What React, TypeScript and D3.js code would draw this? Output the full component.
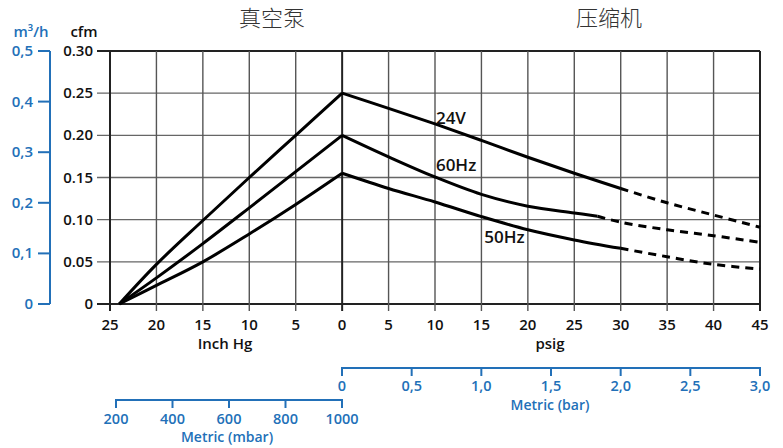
import React from "react";
import * as d3 from "d3";

// ---------- data ----------
const vacuumInHg = [24, 20, 15, 10, 5, 0];
const vac24V = [0, 0.047, 0.099, 0.15, 0.2, 0.25];
const vac60Hz = [0, 0.031, 0.0716, 0.114, 0.157, 0.2];
const vac50Hz = [0, 0.022, 0.05, 0.083, 0.118, 0.155];

const psig24VSolid = [0, 5, 10, 15, 20, 25, 30];
const cmp24VSolid = [0.25, 0.232, 0.2135, 0.194, 0.174, 0.155, 0.137];
const psig24VDash = [30, 35, 40, 45];
const cmp24VDash = [0.137, 0.12, 0.1055, 0.091];

const psig60HzSolid = [0, 5, 10, 15, 20, 25, 27.5];
const cmp60HzSolid = [0.2, 0.1745, 0.1506, 0.13, 0.116, 0.108, 0.104];
const psig60HzDash = [27.5, 30, 35, 40, 45];
const cmp60HzDash = [0.104, 0.097, 0.088, 0.081, 0.073];

const psig50HzSolid = [0, 5, 10, 15, 20, 25, 30];
const cmp50HzSolid = [0.155, 0.137, 0.121, 0.1036, 0.088, 0.076, 0.066];
const psig50HzDash = [30, 35, 40, 45];
const cmp50HzDash = [0.066, 0.056, 0.047, 0.0415];

const inHgTicks = [25, 20, 15, 10, 5, 0];
const psigTicks = [0, 5, 10, 15, 20, 25, 30, 35, 40, 45];
const cfmTicks = [0, 0.05, 0.1, 0.15, 0.2, 0.25, 0.3];
const cfmTickLabels = ["0", "0.05", "0.10", "0.15", "0.20", "0.25", "0.30"];
const m3hTicks = [0, 0.1, 0.2, 0.3, 0.4, 0.5];
const m3hTickLabels = ["0", "0,1", "0,2", "0,3", "0,4", "0,5"];
const barTicks = [0, 0.5, 1, 1.5, 2, 2.5, 3];
const barTickLabels = ["0", "0,5", "1,0", "1,5", "2,0", "2,5", "3,0"];
const mbarTicks = [200, 400, 600, 800, 1000];

const curveLabels = [
  { text: "24V", psig: 10.1, cfm: 0.214 },
  { text: "60Hz", psig: 10.1, cfm: 0.158 },
  { text: "50Hz", psig: 15.3, cfm: 0.072 },
];

// ---------- layout ----------
const W = 783;
const H = 448;
const BLUE = "#2270b8";
const FONT = "'Open Sans', 'Noto Sans', sans-serif";

const x = d3.scaleLinear().domain([-25, 45]).range([110, 760]);
const y = d3.scaleLinear().domain([0, 0.3]).range([304, 51]);
const yM3 = d3.scaleLinear().domain([0, 0.5]).range([304, 51]);
const xBar = d3.scaleLinear().domain([0, 3]).range([342, 760]);
const xMbar = d3.scaleLinear().domain([200, 1000]).range([116, 342]);

const line = d3
  .line<[number, number]>()
  .x((d) => x(d[0]))
  .y((d) => y(d[1]))
  .curve(d3.curveCatmullRom.alpha(0.5));

function vacPts(vals: number[]): [number, number][] {
  return vacuumInHg.map((v, i) => [-v, vals[i]] as [number, number]);
}
function cmpPts(ps: number[], vals: number[]): [number, number][] {
  return ps.map((p, i) => [p, vals[i]] as [number, number]);
}

const solidSeries = [
  vacPts(vac24V),
  vacPts(vac60Hz),
  vacPts(vac50Hz),
  cmpPts(psig24VSolid, cmp24VSolid),
  cmpPts(psig60HzSolid, cmp60HzSolid),
  cmpPts(psig50HzSolid, cmp50HzSolid),
];
const dashSeries = [
  cmpPts(psig24VDash, cmp24VDash),
  cmpPts(psig60HzDash, cmp60HzDash),
  cmpPts(psig50HzDash, cmp50HzDash),
];

export default function App() {
  const vLines = [...inHgTicks.map((v) => -v), ...psigTicks.filter((p) => p > 0)];
  return (
    <svg
      width={W}
      height={H}
      viewBox={`0 0 ${W} ${H}`}
      style={{ position: "absolute", left: 0, top: 0, background: "#fff" }}
      fontFamily={FONT}
      fontWeight={600}
    >
      {/* titles */}
      <text x={272} y={26} textAnchor="middle" fontSize={22} fill="#333" fontFamily="'Noto Sans CJK SC'" fontWeight={300}>
        真空泵
      </text>
      <text x={609} y={26} textAnchor="middle" fontSize={22} fill="#333" fontFamily="'Noto Sans CJK SC'" fontWeight={300}>
        压缩机
      </text>

      {/* horizontal grid + cfm ticks */}
      {cfmTicks.map((t, i) => (
        <line
          key={"h" + i}
          x1={97}
          x2={760}
          y1={y(t)}
          y2={y(t)}
          stroke={t === 0 || t === 0.3 ? "#222" : "#666"}
          strokeWidth={t === 0 || t === 0.3 ? 2.2 : 1.4}
        />
      ))}
      {/* vertical grid */}
      {vLines.map((v, i) => (
        <line
          key={"v" + i}
          x1={x(v)}
          x2={x(v)}
          y1={y(0.3)}
          y2={y(0) + 7}
          stroke={v === -25 || v === 0 || v === 45 ? "#222" : "#555"}
          strokeWidth={v === -25 || v === 0 || v === 45 ? 2 : 1.4}
        />
      ))}

      {/* cfm tick labels */}
      {cfmTicks.map((t, i) => (
        <text key={"cl" + i} x={93} y={y(t) + 5} textAnchor="end" fontSize={15} fill="#111">
          {cfmTickLabels[i]}
        </text>
      ))}
      <text x={84} y={37} textAnchor="middle" fontSize={15} fill="#111">
        cfm
      </text>

      {/* m3/h axis */}
      <line x1={50} x2={50} y1={yM3(0.5)} y2={yM3(0)} stroke={BLUE} strokeWidth={2} />
      {m3hTicks.map((t, i) => (
        <g key={"m" + i}>
          <line x1={38} x2={50} y1={yM3(t)} y2={yM3(t)} stroke={BLUE} strokeWidth={2} />
          <text x={33} y={yM3(t) + 5} textAnchor="end" fontSize={15} fill={BLUE}>
            {m3hTickLabels[i]}
          </text>
        </g>
      ))}
      <text x={31} y={37} textAnchor="middle" fontSize={15} fill={BLUE}>
        m³/h
      </text>

      {/* bottom tick labels */}
      {inHgTicks.map((v, i) => (
        <text key={"ih" + i} x={x(-v)} y={330} textAnchor="middle" fontSize={15} fill="#111">
          {v}
        </text>
      ))}
      {psigTicks
        .filter((p) => p > 0)
        .map((p, i) => (
          <text key={"ps" + i} x={x(p)} y={330} textAnchor="middle" fontSize={15} fill="#111">
            {p}
          </text>
        ))}
      <text x={225} y={349} textAnchor="middle" fontSize={15} fill="#111">
        Inch Hg
      </text>
      <text x={550} y={349} textAnchor="middle" fontSize={15} fill="#111">
        psig
      </text>

      {/* bar axis */}
      <line x1={xBar(0)} x2={xBar(3)} y1={368} y2={368} stroke={BLUE} strokeWidth={2} />
      {barTicks.map((t, i) => (
        <g key={"b" + i}>
          <line x1={xBar(t)} x2={xBar(t)} y1={367} y2={376} stroke={BLUE} strokeWidth={2} />
          <text x={xBar(t)} y={391} textAnchor="middle" fontSize={14.5} fill={BLUE}>
            {barTickLabels[i]}
          </text>
        </g>
      ))}
      <text x={550} y={410} textAnchor="middle" fontSize={14} fill={BLUE}>
        Metric (bar)
      </text>

      {/* mbar axis */}
      <line x1={xMbar(200)} x2={xMbar(1000)} y1={400} y2={400} stroke={BLUE} strokeWidth={2} />
      {mbarTicks.map((t, i) => (
        <g key={"mb" + i}>
          <line x1={xMbar(t)} x2={xMbar(t)} y1={399} y2={408} stroke={BLUE} strokeWidth={2} />
          <text x={xMbar(t)} y={424} textAnchor="middle" fontSize={14.5} fill={BLUE}>
            {t}
          </text>
        </g>
      ))}
      <text x={227} y={442} textAnchor="middle" fontSize={14} fill={BLUE}>
        Metric (mbar)
      </text>

      {/* curves */}
      {solidSeries.map((s, i) => (
        <path key={"s" + i} d={line(s) || ""} fill="none" stroke="#000" strokeWidth={3} strokeLinejoin="miter" />
      ))}
      {dashSeries.map((s, i) => (
        <path key={"d" + i} d={line(s) || ""} fill="none" stroke="#000" strokeWidth={3} strokeDasharray="8 6" />
      ))}

      {/* curve labels */}
      {curveLabels.map((l, i) => (
        <text key={"l" + i} x={x(l.psig)} y={y(l.cfm)} fontSize={17} fill="#111">
          {l.text}
        </text>
      ))}
    </svg>
  );
}
